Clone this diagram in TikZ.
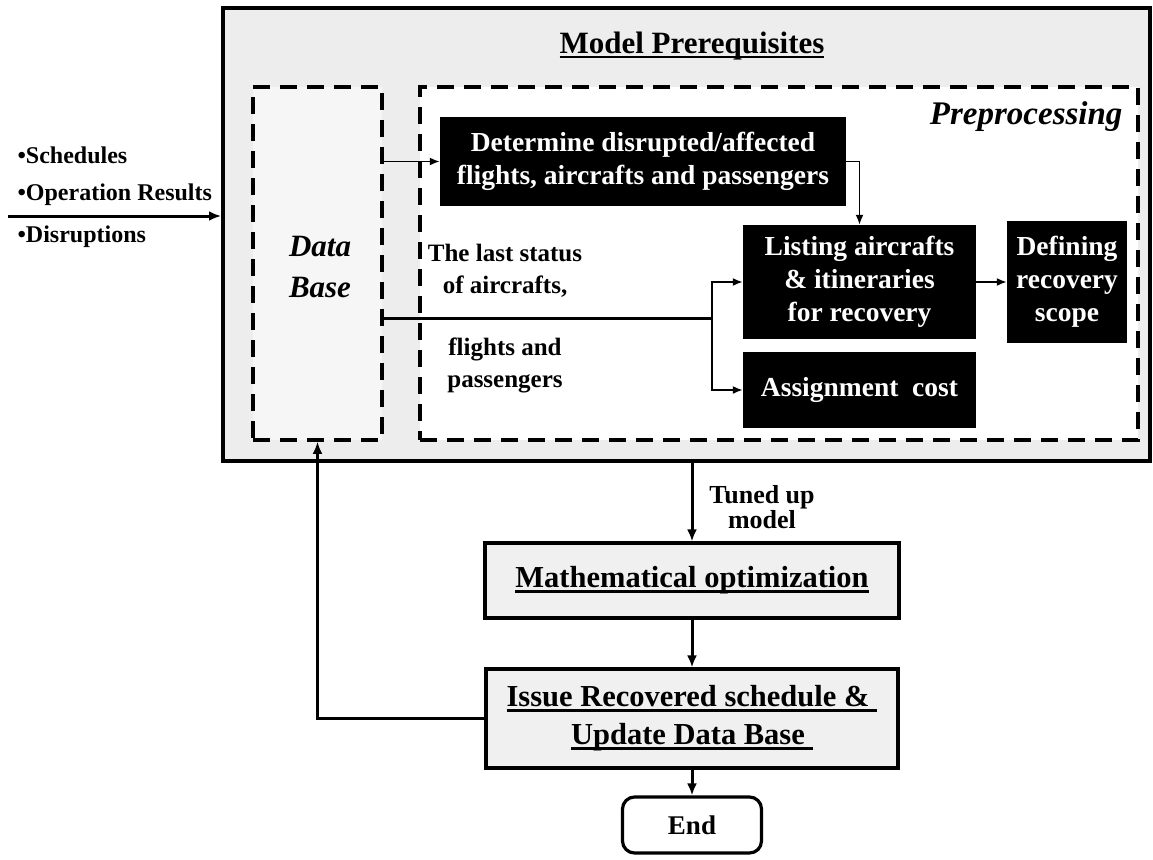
\documentclass[tikz,border=0pt]{standalone}
\usepackage{fontspec}
\setmainfont{Liberation Serif}
\usetikzlibrary{arrows.meta,calc}
\newsavebox\ulsave
\newcommand\ulbar[1]{\sbox\ulsave{#1}\rlap{\rule[-5pt]{\wd\ulsave}{2.8pt}}\usebox\ulsave}
\begin{document}
\begin{tikzpicture}[x=1pt,y=-1pt,
  outerbox/.style={draw, line width=4pt, fill=gray!14, inner sep=0pt},
  dashbox/.style={draw, line width=3.5pt, dash pattern=on 17pt off 10pt, inner sep=0pt},
  blackbox/.style={fill=black, text=white, inner sep=0pt, align=center,
    font={\fontsize{27.5}{33}\selectfont\bfseries}},
  titlebox/.style={draw, line width=3.2pt, fill=gray!12, inner sep=0pt, align=center,
    font={\fontsize{30.5}{38}\selectfont\bfseries}},
  endbox/.style={draw, line width=3.2pt, fill=white, rounded corners=12pt, inner sep=0pt,
    font={\fontsize{27}{30}\selectfont\bfseries}},
  plain/.style={inner sep=0pt, align=center, font={\fontsize{25}{32}\selectfont\bfseries}},
  flow/.style={line width=3pt, -{Latex[length=12pt,width=10pt]}},
  link/.style={line width=1.8pt, -{Latex[length=10pt,width=8pt]}},
  bar/.style={line width=3pt}]
\useasboundingbox (0,0) rectangle (1153,859);
\fill[white] (0,0) rectangle (1153,859);

% model prerequisites frame and its two dashed regions
\node[outerbox, minimum width=927pt, minimum height=453pt] (outer) at (686.5,234.5) {};
\node[font={\fontsize{31}{34}\selectfont\bfseries}] (mptitle) at (692,46) {\ulbar{Model Prerequisites}};
\node[dashbox, fill=gray!7, minimum width=129pt, minimum height=353pt] (database) at (317.5,263.5) {};
\node[dashbox, fill=white, minimum width=718pt, minimum height=353pt] (preproc) at (779,263.5) {};
\node[font={\fontsize{31}{41}\selectfont\bfseries\itshape}, align=center] (dblabel) at (320,267) {Data\\Base};
\node[anchor=east, font={\fontsize{33}{36}\selectfont\bfseries\itshape}] (pplabel) at (1126,117) {Preprocessing};

% preprocessing steps
\node[blackbox, minimum width=406pt, minimum height=89pt] (box1) at (643,161.5)
  {Determine disrupted/affected\\flights, aircrafts and passengers};
\node[blackbox, minimum width=233pt, minimum height=114pt] (box2) at (859.5,282)
  {Listing aircrafts\\\& itineraries\\for recovery};
\node[blackbox, minimum width=120pt, minimum height=122pt] (box3) at (1067,282)
  {Defining\\recovery\\scope};
\node[blackbox, minimum width=233pt, minimum height=76pt] (box4) at (859.5,390)
  {Assignment\ \ cost};

\node[plain] (status1) at (505,271) {The last status\\of aircrafts,};
\node[plain] (status2) at (505,365) {flights and\\passengers};

% inputs
\node[anchor=west, font={\fontsize{24}{26}\selectfont\bfseries}] (in1) at (14,155) {•Schedules};
\node[anchor=west, font={\fontsize{24}{26}\selectfont\bfseries}] (in2) at (14,195) {•Operation Results};
\node[anchor=west, font={\fontsize{24}{26}\selectfont\bfseries}] (in3) at (14,237) {•Disruptions};
\coordinate (src) at (8,216);

% optimisation chain
\node[titlebox, minimum width=414pt, minimum height=75pt] (math) at (692,580.5)
  {\ulbar{Mathematical optimization}};
\node[titlebox, minimum width=412pt, minimum height=99pt] (issue) at (692,718.5)
  {\ulbar{Issue Recovered schedule \&\kern8pt}\\\ulbar{Update Data Base\kern8pt}};
\node[endbox, minimum width=139pt, minimum height=56pt] (end) at (692,825) {End};
\node[plain, font={\fontsize{26}{25}\selectfont\bfseries}] (tuned) at (762,507) {Tuned up\\model};

\coordinate (split) at (712,318);

% connectors
\draw[flow] (src) -- (src -| outer.west);
\draw[link] (database.east |- box1.west) -- (box1.west);
\draw[link] (box1.east) -| (box2.north);
\draw[link] (box2.east) -- (box3.west);
\draw[bar] (database.east |- split) -- (split);
\draw[link] (split) |- (box2.west);
\draw[link] (split) |- (box4.west);
\draw[flow] (math.north |- outer.south) -- (math.north);
\draw[flow] (math.south) -- (issue.north);
\draw[flow] (issue.south) -- (end.north);
\draw[flow] (issue.west) -| (database.south);
\end{tikzpicture}
\end{document}
